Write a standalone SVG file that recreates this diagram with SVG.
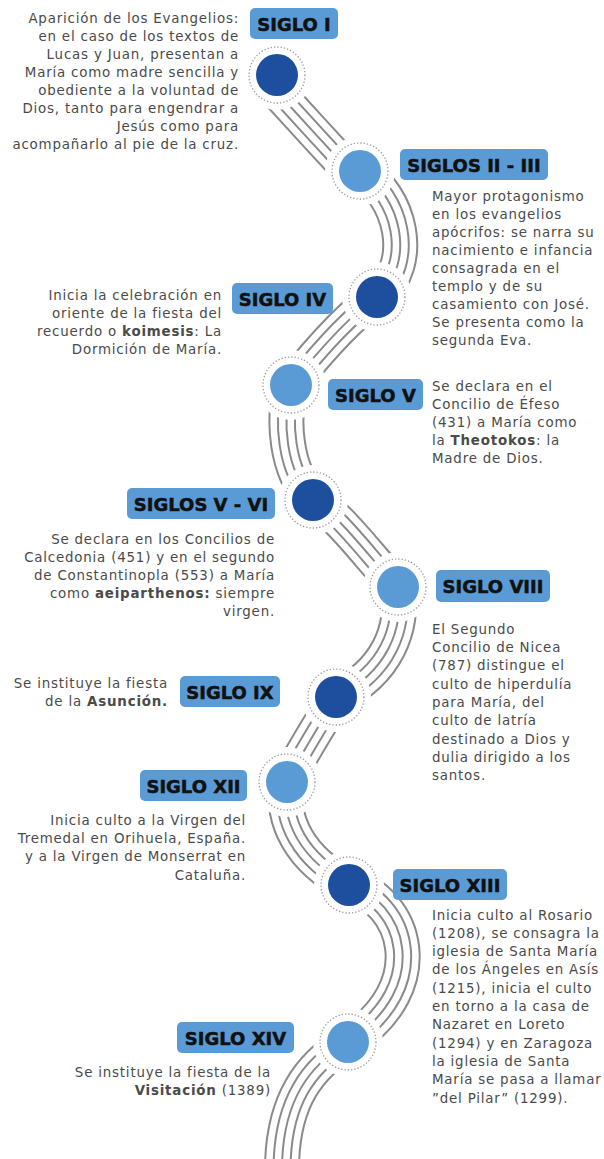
<svg xmlns="http://www.w3.org/2000/svg" xmlns:xlink="http://www.w3.org/1999/xlink" width="604" height="1159" viewBox="0 0 604 1159">
<style>
.b0{fill:none;stroke:#8a8a8a;stroke-width:36}
.b1{fill:none;stroke:#fff;stroke-width:32}
.b2{fill:none;stroke:#8a8a8a;stroke-width:19}
.b3{fill:none;stroke:#fff;stroke-width:15}
.b4{fill:none;stroke:#8a8a8a;stroke-width:2}
.halo{fill:#fff}
.ring{fill:none;stroke:#9a9a9a;stroke-width:1.3;stroke-dasharray:1.3 2}
.dark{fill:#1d4f9e}
.light{fill:#5b9bd5}
.box{fill:#5b9bd5}
.lbl{font-family:"DejaVu Sans",sans-serif;font-weight:bold;font-size:18px;fill:#111;stroke:#111;stroke-width:0.5;text-anchor:middle}
.t{font-family:"DejaVu Sans",sans-serif;font-size:13.4px;fill:#4a4a4a;letter-spacing:0.8px}
.r{text-anchor:end}
.bd{font-weight:bold}
</style>
<defs>
<path id="p1" d="M267,81 C285,101 330,150 356,178"/>
<path id="p2" d="M360,171 C400,195 418,262 377,297"/>
<path id="p3" d="M377,297 C350,315 315,355 291,385"/>
<path id="p4" d="M291,385 C282,420 285,470 313,500"/>
<path id="p5" d="M313,500 C340,515 375,565 398,587"/>
<path id="p6" d="M398,587 C404,628 388,672 336,697"/>
<path id="p7" d="M336,697 C320,725 300,755 287,782"/>
<path id="p8" d="M287,782 C280,820 300,860 349,885"/>
<path id="p9" d="M349,885 C405,900 435,985 348,1042"/>
<path id="p10" d="M348,1042 C310,1065 282,1100 282,1170"/>
</defs>
<rect width="604" height="1159" fill="#fff"/>
<g id="connectors">
<g><use href="#p1" class="b0"/><use href="#p1" class="b1"/><use href="#p1" class="b2"/><use href="#p1" class="b3"/><use href="#p1" class="b4"/></g>
<g><use href="#p2" class="b0"/><use href="#p2" class="b1"/><use href="#p2" class="b2"/><use href="#p2" class="b3"/><use href="#p2" class="b4"/></g>
<g><use href="#p3" class="b0"/><use href="#p3" class="b1"/><use href="#p3" class="b2"/><use href="#p3" class="b3"/><use href="#p3" class="b4"/></g>
<g><use href="#p4" class="b0"/><use href="#p4" class="b1"/><use href="#p4" class="b2"/><use href="#p4" class="b3"/><use href="#p4" class="b4"/></g>
<g><use href="#p5" class="b0"/><use href="#p5" class="b1"/><use href="#p5" class="b2"/><use href="#p5" class="b3"/><use href="#p5" class="b4"/></g>
<g><use href="#p6" class="b0"/><use href="#p6" class="b1"/><use href="#p6" class="b2"/><use href="#p6" class="b3"/><use href="#p6" class="b4"/></g>
<g><use href="#p7" class="b0"/><use href="#p7" class="b1"/><use href="#p7" class="b2"/><use href="#p7" class="b3"/><use href="#p7" class="b4"/></g>
<g><use href="#p8" class="b0"/><use href="#p8" class="b1"/><use href="#p8" class="b2"/><use href="#p8" class="b3"/><use href="#p8" class="b4"/></g>
<g><use href="#p9" class="b0"/><use href="#p9" class="b1"/><use href="#p9" class="b2"/><use href="#p9" class="b3"/><use href="#p9" class="b4"/></g>
<g><use href="#p10" class="b0"/><use href="#p10" class="b1"/><use href="#p10" class="b2"/><use href="#p10" class="b3"/><use href="#p10" class="b4"/></g>
</g>

<g id="siglo-i">
<circle class="halo" cx="277" cy="75" r="35"/><circle class="ring" cx="277" cy="75" r="28"/><circle class="dark" cx="277" cy="75" r="21"/>
<rect class="box" x="250" y="8" width="88" height="31" rx="5"/>
<text class="lbl" x="294" y="30.5">SIGLO I</text>
<text class="t r" x="239"><tspan x="239" y="22.7">Aparición de los Evangelios:</tspan><tspan x="239" y="40.8">en el caso de los textos de</tspan><tspan x="239" y="58.9">Lucas y Juan, presentan a</tspan><tspan x="239" y="77">María como madre sencilla y</tspan><tspan x="239" y="95.1">obediente a la voluntad de</tspan><tspan x="239" y="113.2">Dios, tanto para engendrar a</tspan><tspan x="239" y="131.3">Jesús como para</tspan><tspan x="239" y="149.4">acompañarlo al pie de la cruz.</tspan></text>
</g>

<g id="siglos-ii-iii">
<circle class="halo" cx="360" cy="171" r="35"/><circle class="ring" cx="360" cy="171" r="28"/><circle class="light" cx="360" cy="171" r="21"/>
<rect class="box" x="400" y="149" width="148" height="31" rx="5"/>
<text class="lbl" x="474" y="171.5">SIGLOS II - III</text>
<text class="t"><tspan x="432" y="200.5">Mayor protagonismo</tspan><tspan x="432" y="218.5">en los evangelios</tspan><tspan x="432" y="236.5">apócrifos: se narra su</tspan><tspan x="432" y="254.5">nacimiento e infancia</tspan><tspan x="432" y="272.5">consagrada en el</tspan><tspan x="432" y="290.5">templo y de su</tspan><tspan x="432" y="308.5">casamiento con José.</tspan><tspan x="432" y="326.5">Se presenta como la</tspan><tspan x="432" y="344.5">segunda Eva.</tspan></text>
</g>

<g id="siglo-iv">
<circle class="halo" cx="377" cy="297" r="35"/><circle class="ring" cx="377" cy="297" r="28"/><circle class="dark" cx="377" cy="297" r="21"/>
<rect class="box" x="232" y="283" width="101" height="31" rx="5"/>
<text class="lbl" x="282.5" y="305.5">SIGLO IV</text>
<text class="t r"><tspan x="222" y="299.5">Inicia la celebración en</tspan><tspan x="222" y="317.5">oriente de la fiesta del</tspan><tspan x="222" y="335.5">recuerdo o <tspan class="bd">koimesis</tspan>: La</tspan><tspan x="222" y="353.5">Dormición de María.</tspan></text>
</g>

<g id="siglo-v">
<circle class="halo" cx="291" cy="385" r="35"/><circle class="ring" cx="291" cy="385" r="28"/><circle class="light" cx="291" cy="385" r="21"/>
<rect class="box" x="328" y="379" width="95" height="31" rx="5"/>
<text class="lbl" x="375.5" y="401.5">SIGLO V</text>
<text class="t"><tspan x="432" y="390.5">Se declara en el</tspan><tspan x="432" y="408.7">Concilio de Éfeso</tspan><tspan x="432" y="426.9">(431) a María como</tspan><tspan x="432" y="445.1">la <tspan class="bd">Theotokos</tspan>: la</tspan><tspan x="432" y="463.3">Madre de Dios.</tspan></text>
</g>

<g id="siglos-v-vi">
<circle class="halo" cx="313" cy="500" r="35"/><circle class="ring" cx="313" cy="500" r="28"/><circle class="dark" cx="313" cy="500" r="21"/>
<rect class="box" x="127" y="488" width="148" height="31" rx="5"/>
<text class="lbl" x="201" y="510.5">SIGLOS V - VI</text>
<text class="t r"><tspan x="275" y="543.5">Se declara en los Concilios de</tspan><tspan x="275" y="561.7">Calcedonia (451) y en el segundo</tspan><tspan x="275" y="579.9">de Constantinopla (553) a María</tspan><tspan x="275" y="598.1">como <tspan class="bd">aeiparthenos:</tspan> siempre</tspan><tspan x="275" y="616.3">virgen.</tspan></text>
</g>

<g id="siglo-viii">
<circle class="halo" cx="398" cy="587" r="35"/><circle class="ring" cx="398" cy="587" r="28"/><circle class="light" cx="398" cy="587" r="21"/>
<rect class="box" x="436" y="570" width="114" height="32" rx="5"/>
<text class="lbl" x="493" y="593">SIGLO VIII</text>
<text class="t"><tspan x="432" y="633.8">El Segundo</tspan><tspan x="432" y="652.1">Concilio de Nicea</tspan><tspan x="432" y="670.4">(787) distingue el</tspan><tspan x="432" y="688.7">culto de hiperdulía</tspan><tspan x="432" y="707">para María, del</tspan><tspan x="432" y="725.3">culto de latría</tspan><tspan x="432" y="743.6">destinado a Dios y</tspan><tspan x="432" y="761.9">dulia dirigido a los</tspan><tspan x="432" y="780.2">santos.</tspan></text>
</g>

<g id="siglo-ix">
<circle class="halo" cx="336" cy="697" r="35"/><circle class="ring" cx="336" cy="697" r="28"/><circle class="dark" cx="336" cy="697" r="21"/>
<rect class="box" x="180" y="676" width="100" height="31" rx="5"/>
<text class="lbl" x="230" y="698.5">SIGLO IX</text>
<text class="t r"><tspan x="168" y="688">Se instituye la fiesta</tspan><tspan x="168" y="706">de la <tspan class="bd">Asunción.</tspan></tspan></text>
</g>

<g id="siglo-xii">
<circle class="halo" cx="287" cy="782" r="35"/><circle class="ring" cx="287" cy="782" r="28"/><circle class="light" cx="287" cy="782" r="21"/>
<rect class="box" x="140" y="770" width="107" height="31" rx="5"/>
<text class="lbl" x="193.5" y="792.5">SIGLO XII</text>
<text class="t r"><tspan x="246" y="824.5">Inicia culto a la Virgen del</tspan><tspan x="246" y="842.9">Tremedal en Orihuela, España.</tspan><tspan x="246" y="861.3">y a la Virgen de Monserrat en</tspan><tspan x="246" y="879.7">Cataluña.</tspan></text>
</g>

<g id="siglo-xiii">
<circle class="halo" cx="349" cy="885" r="35"/><circle class="ring" cx="349" cy="885" r="28"/><circle class="dark" cx="349" cy="885" r="21"/>
<rect class="box" x="393" y="869" width="114" height="31" rx="5"/>
<text class="lbl" x="450" y="891.5">SIGLO XIII</text>
<text class="t"><tspan x="432" y="919.5">Inicia culto al Rosario</tspan><tspan x="432" y="937.8">(1208), se consagra la</tspan><tspan x="432" y="956.1">iglesia de Santa María</tspan><tspan x="432" y="974.4">de los Ángeles en Asís</tspan><tspan x="432" y="992.7">(1215), inicia el culto</tspan><tspan x="432" y="1011">en torno a la casa de</tspan><tspan x="432" y="1029.3">Nazaret en Loreto</tspan><tspan x="432" y="1047.6">(1294) y en Zaragoza</tspan><tspan x="432" y="1065.9">la iglesia de Santa</tspan><tspan x="432" y="1084.2">María se pasa a llamar</tspan><tspan x="432" y="1102.5">”del Pilar” (1299).</tspan></text>
</g>

<g id="siglo-xiv">
<circle class="halo" cx="348" cy="1042" r="35"/><circle class="ring" cx="348" cy="1042" r="28"/><circle class="light" cx="348" cy="1042" r="21"/>
<rect class="box" x="177" y="1022" width="117" height="31" rx="5"/>
<text class="lbl" x="235.5" y="1044.5">SIGLO XIV</text>
<text class="t r"><tspan x="271" y="1077">Se instituye la fiesta de la</tspan><tspan x="271" y="1095"><tspan class="bd">Visitación</tspan> (1389)</tspan></text>
</g>
</svg>
